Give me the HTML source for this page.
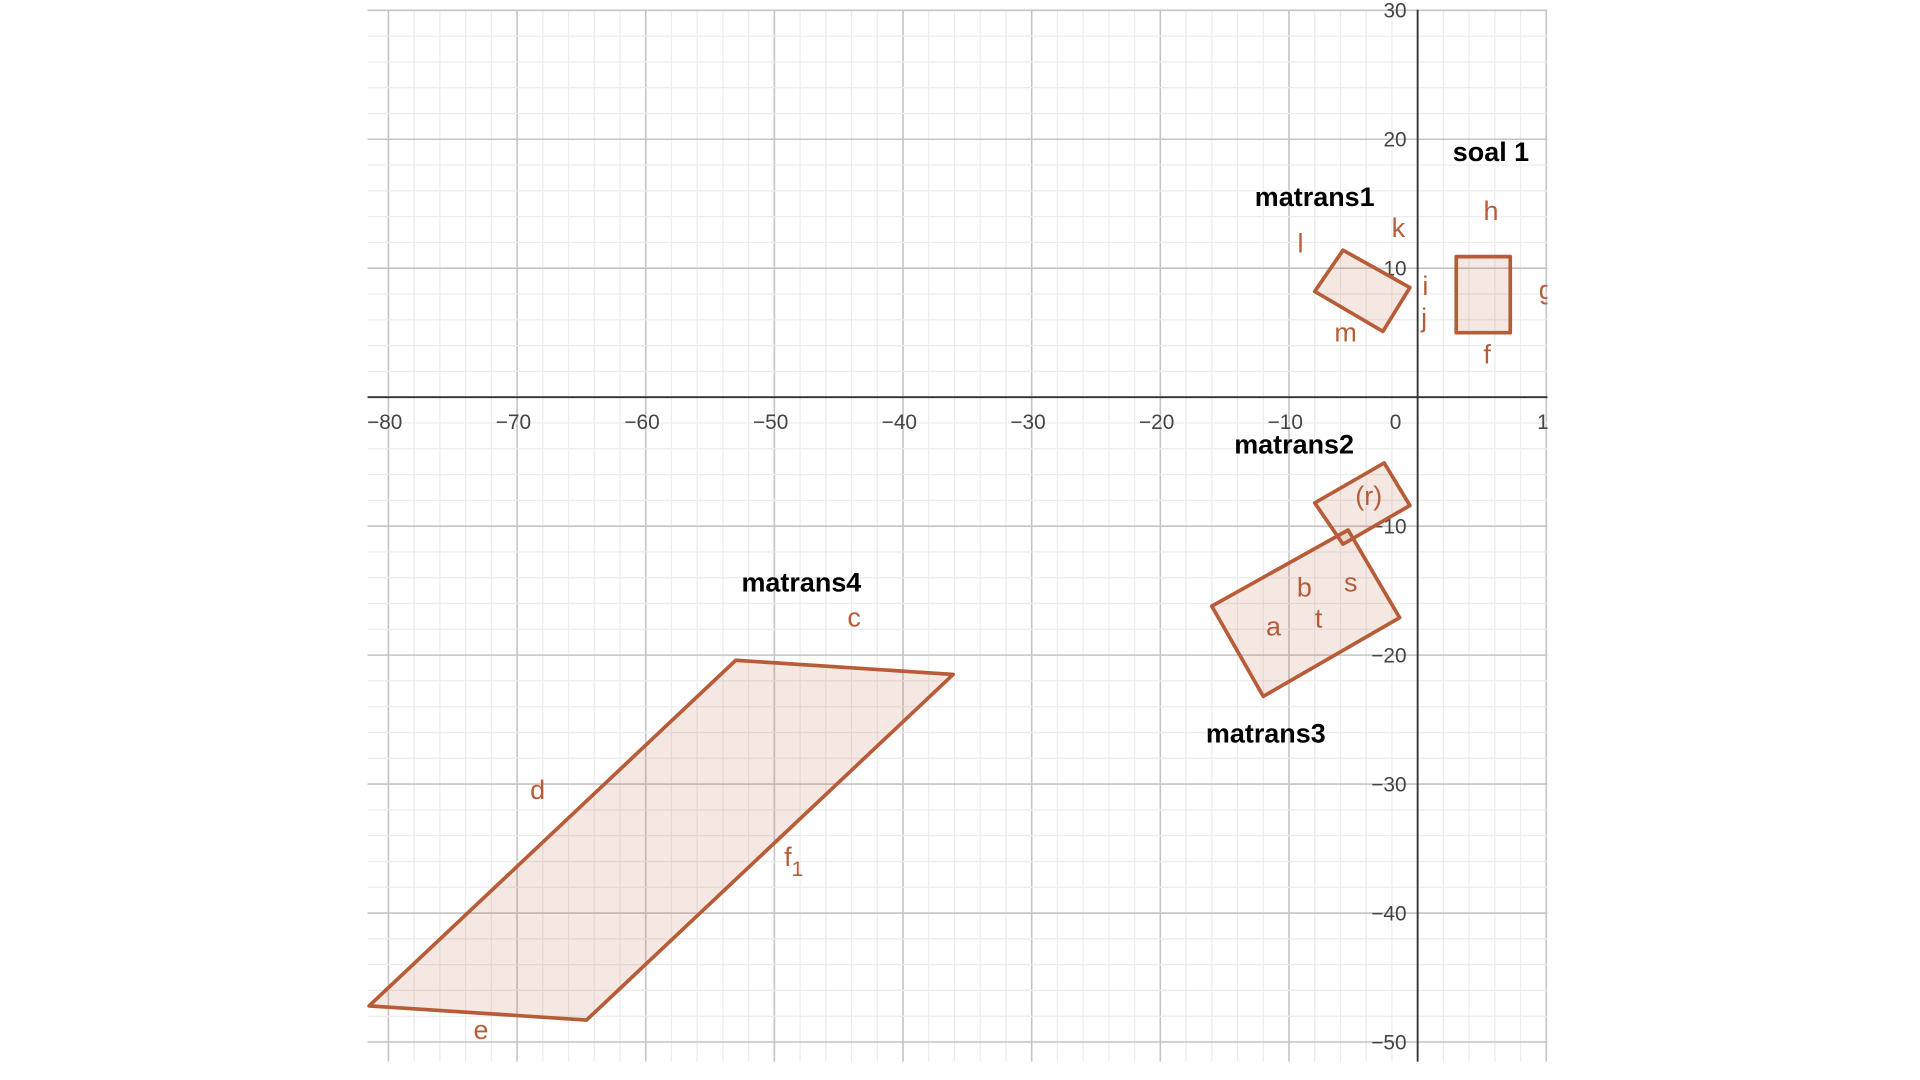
<!DOCTYPE html>
<html><head><meta charset="utf-8"><style>
html,body{margin:0;padding:0;background:#fff;width:1920px;height:1080px;overflow:hidden}
svg{display:block}
.tick{font-family:"Liberation Sans",sans-serif;font-size:17px;fill:#444}
.lbl{font-family:"Liberation Sans",sans-serif;font-size:22px;fill:#b85c38}
.ttl{font-family:"Liberation Sans",sans-serif;font-size:22px;font-weight:bold;fill:#000}
</style></head><body>
<svg id="chart" width="1920" height="1080" viewBox="0 0 1567 881" preserveAspectRatio="none" xmlns="http://www.w3.org/2000/svg">
<defs><clipPath id="cp"><rect x="0" y="0" width="1263" height="881"/></clipPath></defs>
<g clip-path="url(#cp)"><g id="grid"></g><g id="axes"></g><g id="shapes"></g><g id="labels"></g></g>
</svg>
<script>
const xTicks=[-80,-70,-60,-50,-40,-30,-20,-10,0,10];
const yTicks=[30,20,10,-10,-20,-30,-40,-50];
const shapeNames=["soal1","matrans1","matrans2","matrans3","matrans4"];
const soal1=[[3,5],[7.2,5],[7.2,10.9],[3,10.9]];
const matrans1=[[-8,8.2],[-5.8,11.4],[-0.6,8.5],[-2.7,5.1]];
const matrans2=[[-8,-8.2],[-2.6,-5.1],[-0.6,-8.4],[-5.8,-11.4]];
const matrans3=[[-16,-16.2],[-5.4,-10.3],[-1.4,-17.1],[-12,-23.2]];
const matrans4=[[-53,-20.4],[-36.1,-21.5],[-64.6,-48.3],[-81.5,-47.2]];
const titles=[["soal 1",5.7,18.9],["matrans1",-8,15.4],["matrans2",-9.6,-3.8],["matrans4",-47.9,-14.5],["matrans3",-11.8,-26.2]];
const letters=[["l",-9.1,11.8],["k",-1.5,13],["i",0.6,8.5],["j",0.5,6],["m",-5.6,4.9],["h",5.7,14.3],["f",5.4,3.2],["g",10,8.2],["s",-5.2,-14.5],["b",-8.8,-14.9],["t",-7.7,-17.3],["a",-11.2,-17.9],["c",-43.8,-17.2],["d",-68.4,-30.6],["e",-72.8,-49.2],["(r)",-3.8,-7.8]];
const X=u=>1157+10.5*u, Y=v=>324-10.52*v;
const L=300,R=1263,T=8,B=866,DY=6;
const NS="http://www.w3.org/2000/svg";
function mk(t,a,p){const e=document.createElementNS(NS,t);for(const k in a)e.setAttribute(k,a[k]);p.appendChild(e);return e;}
const grid=document.getElementById('grid'),axes=document.getElementById('axes'),shp=document.getElementById('shapes'),lab=document.getElementById('labels');
for(let u=-82;u<=10;u+=2){const x=X(u);if(x<L||x>R)continue;const maj=u%10===0;
 const g=mk('line',{x1:x,x2:x,y1:T,y2:B,stroke:maj?'#c4c4c4':'#ececec','stroke-width':maj?1.3:1},grid);
 }
for(let v=30;v>=-52;v-=2){const y=Y(v);if(y<T||y>B)continue;const maj=v%10===0;
 const g=mk('line',{x1:L,x2:R,y1:y,y2:y,stroke:maj?'#c4c4c4':'#ececec','stroke-width':maj?1.3:1},grid);
 }
const xa=mk('line',{x1:L,x2:R,y1:Y(0),y2:Y(0),stroke:'#333','stroke-width':1.5},axes);

const ya=mk('line',{x1:X(0),x2:X(0),y1:T,y2:B,stroke:'#333','stroke-width':1.5},axes);

xTicks.forEach(t=>{const e=mk('text',{x:X(t)-(t===0?18:t<0?3:-2),y:Y(0)+26,class:'tick','text-anchor':'middle'},axes);
 e.textContent=t<0?'\u2212'+(-t):String(t);
 });
yTicks.forEach(t=>{const e=mk('text',{x:X(0)-9,y:Y(t)+6,class:'tick','text-anchor':'end'},axes);
 e.textContent=t<0?'\u2212'+(-t):String(t);
 });
const polys={soal1,matrans1,matrans2,matrans3,matrans4};
shapeNames.forEach(n=>{const p=mk('polygon',{points:polys[n].map(q=>X(q[0])+','+Y(q[1])).join(' '),fill:'rgba(185,92,56,0.14)',stroke:'#b85c38','stroke-width':3,'stroke-linejoin':'round'},shp);
 });
letters.forEach(l=>{const e=mk('text',{x:X(l[1]),y:Y(l[2])+DY,class:'lbl','text-anchor':'middle'},lab);
 e.textContent=l[0];
 });
const f1=mk('text',{x:X(-48.5),y:Y(-35.8)+DY,class:'lbl','text-anchor':'middle'},lab);
f1.innerHTML='f<tspan dy="8" font-size="17">1</tspan>';

titles.forEach(t=>{const e=mk('text',{x:X(t[1]),y:Y(t[2])+DY,class:'ttl','text-anchor':'middle'},lab);
 e.textContent=t[0];
 });
</script>
</body></html>
